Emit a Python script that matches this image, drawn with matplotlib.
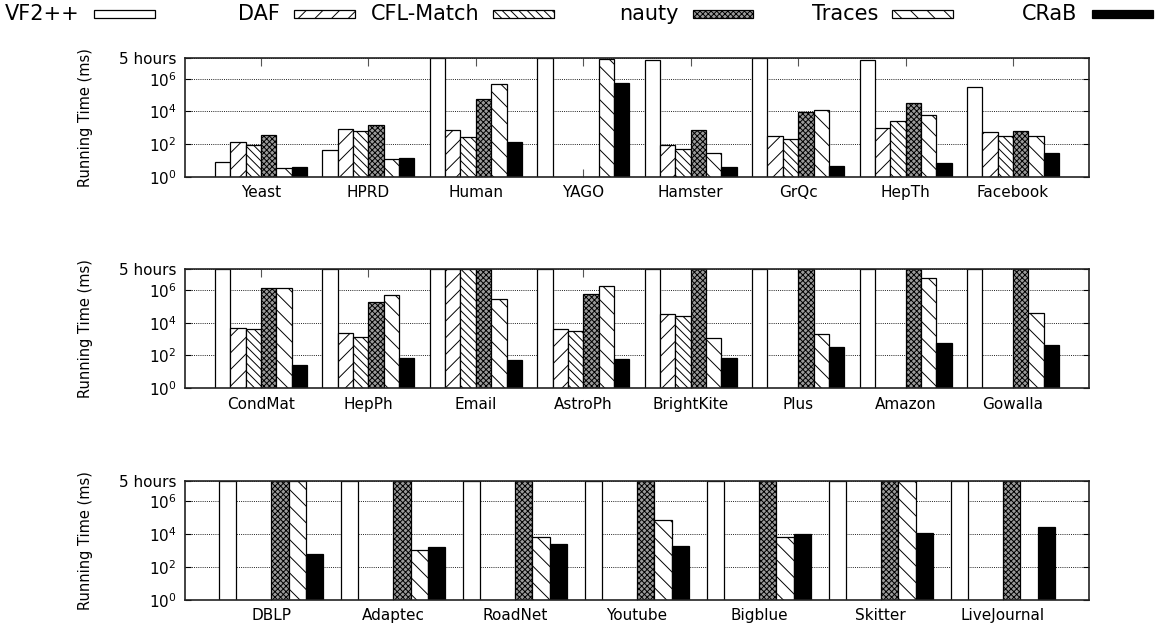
import numpy as np
import matplotlib
matplotlib.use('Agg')
from matplotlib import pyplot as plt
from matplotlib.patches import Rectangle


TO = 5 * 3600 * 1000  # 5 hour cap, ms
NA = np.nan

algos = ['VF2++', 'DAF', 'CFL-Match', 'nauty', 'Traces', 'CRaB']

names_1 = ['Yeast', 'HPRD', 'Human', 'YAGO', 'Hamster', 'GrQc', 'HepTh', 'Facebook']
vf2pp_1 = [7.5, 41, TO, TO, 1.5e7, TO, 1.5e7, 3.1e5]
daf_1 = [126, 790, 720, NA, 83, 295, 955, 540]
cfl_1 = [85, 600, 255, NA, 52, 213, 2560, 295]
nauty_1 = [340, 1400, 5.5e4, NA, 720, 9500, 3.2e4, 630]
traces_1 = [3.4, 11.5, 4.7e5, 1.6e7, 27, 1.3e4, 5700, 300]
crab_1 = [3.9, 13.9, 126, 5.4e5, 3.9, 4.5, 6.9, 30]

names_2 = ['CondMat', 'HepPh', 'Email', 'AstroPh', 'BrightKite', 'Plus', 'Amazon', 'Gowalla']
vf2pp_2 = [TO, TO, TO, TO, TO, TO, TO, TO]
daf_2 = [4700, 2300, TO, 3900, 3.4e4, NA, NA, NA]
cfl_2 = [4300, 1330, TO, 3100, 2.6e4, NA, NA, NA]
nauty_2 = [1.26e6, 1.85e5, TO, 6.0e5, TO, TO, TO, TO]
traces_2 = [1.26e6, 5.2e5, 2.95e5, 1.85e6, 1200, 2000, 5.4e6, 3.7e4]
crab_2 = [28, 69, 54, 63, 72, 340, 600, 450]

names_3 = ['DBLP', 'Adaptec', 'RoadNet', 'Youtube', 'Bigblue', 'Skitter', 'LiveJournal']
vf2pp_3 = [TO, TO, TO, TO, TO, TO, TO]
daf_3 = [NA, NA, NA, NA, NA, NA, NA]
cfl_3 = [NA, NA, NA, NA, NA, NA, NA]
nauty_3 = [TO, TO, TO, TO, TO, TO, TO]
traces_3 = [TO, 1100, 7200, 7.6e4, 7200, TO, NA]
crab_3 = [650, 1750, 2700, 2000, 1.1e4, 1.15e4, 2.95e4]

rows = [
    (names_1, [vf2pp_1, daf_1, cfl_1, nauty_1, traces_1, crab_1]),
    (names_2, [vf2pp_2, daf_2, cfl_2, nauty_2, traces_2, crab_2]),
    (names_3, [vf2pp_3, daf_3, cfl_3, nauty_3, traces_3, crab_3]),
]

# fill style per algorithm: (facecolor, hatch)
styles = [
    ('white', None),
    ('white', '//'),
    ('white', '\\\\\\\\'),
    ('#9a9a9a', 'xxxxxx'),
    ('white', '\\\\'),
    ('black', None),
]

plt.rcParams['font.family'] = ['DejaVu Sans']
plt.rcParams['hatch.linewidth'] = 0.7

W, H = 1159, 628
fig = plt.figure(figsize=(W / 100, H / 100), dpi=100)

# pixel boxes (top, bottom) of each panel
panel_y = [(58.3, 176.7), (269.3, 388.3), (480.7, 600.0)]
x0, x1 = 185, 1089

yticks = [1, 1e2, 1e4, 1e6, TO]
ylabels = ['$10^0$', '$10^2$', '$10^4$', '$10^6$', '5 hours']

for (names, series), (yt, yb) in zip(rows, panel_y):
    ax = fig.add_axes([x0 / W, 1 - yb / H, (x1 - x0) / W, (yb - yt) / H])
    n = len(names)
    x = np.arange(n)
    bw = 1 / 7
    for i, (vals, (fc, hatch)) in enumerate(zip(series, styles)):
        ax.bar(x + (i - 2.5) * bw, vals, width=bw, bottom=0,
               facecolor=fc, edgecolor='black', hatch=hatch,
               linewidth=0.9, zorder=2)
    ax.set_yscale('log')
    ax.set_ylim(1, TO)
    ax.set_xlim(-0.707, n - 1 + 0.707)
    ax.set_xticks(x)
    ax.set_xticklabels(names, fontsize=11)
    ax.set_yticks(yticks)
    ax.set_yticklabels(ylabels, fontsize=11)
    ax.minorticks_off()
    ax.tick_params(axis='x', direction='in', top=True, length=6, width=0.8,
                   pad=6, color='#555555')
    ax.tick_params(axis='y', direction='in', right=True, length=4, width=0.8,
                   pad=6)
    ax.grid(axis='y', color='#222222', linestyle=(0, (1, 1.2)), linewidth=0.7)
    ax.set_axisbelow(True)
    for s in ax.spines.values():
        s.set_linewidth(1.2)
        s.set_color('#222222')
    ax.set_ylabel('Running Time (ms)', fontsize=10.5)
    ax.yaxis.set_label_coords((93 - x0) / (x1 - x0), 0.5)

# key across the top: text, then sample
for i, (name, (fc, hatch)) in enumerate(zip(algos, styles)):
    left = 94 + 199.5 * i
    fig.add_artist(Rectangle((left / W, 1 - 18 / H), 61 / W, 8 / H,
                             transform=fig.transFigure, facecolor=fc,
                             edgecolor='black', hatch=hatch, linewidth=0.9))
    fig.text((left - 14) / W, 1 - 14 / H, name, ha='right', va='center',
             fontsize=15)

fig.savefig('out.png', dpi=100)
